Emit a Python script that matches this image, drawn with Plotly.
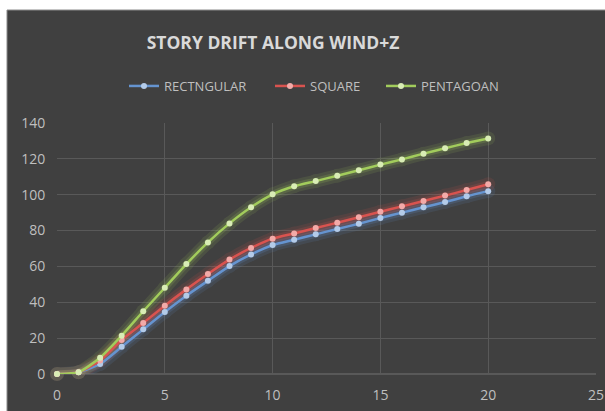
import plotly.graph_objects as go

x_vals = list(range(0, 21))
rect = [0, 1, 5.6, 15.2, 24.9, 34.6, 43.7, 52.0, 60.2, 66.7, 71.9, 74.9, 77.9, 80.9, 83.8, 87.0, 90.0, 93.0, 95.9, 99.1, 102.0]
square = [0, 1, 7.5, 19.0, 28.4, 38.1, 47.2, 55.8, 63.8, 70.3, 75.5, 78.4, 81.4, 84.4, 87.4, 90.5, 93.5, 96.5, 99.5, 102.6, 105.8]
penta = [0, 1, 9.1, 21.4, 35.0, 48.1, 61.3, 73.4, 84.0, 93.0, 100.2, 104.7, 107.6, 110.6, 113.6, 116.8, 119.7, 122.9, 125.9, 128.8, 131.4]

series = [
    ("RECTNGULAR", rect, "#6594d0", "#b3cbe9", 101),
    ("SQUARE", square, "#d9534f", "#f3aaa8", 66),
    ("PENTAGOAN", penta, "#a2cc5c", "#d9edb5", 82),
]

FONT = "Open Sans, sans-serif"
SM = 0.6

W, H = 605, 411
ML, MR, MT, MB = 57, 9, 123, 37
PW, PH = W - ML - MR, H - MT - MB

fig = go.Figure()
for name, ys, col, mcol, lw in series:
    fig.add_trace(go.Scatter(x=x_vals, y=ys, mode="lines+markers",
                             line=dict(color=col, width=13, shape="spline", smoothing=SM),
                             marker=dict(size=14, color=col, line=dict(width=0)),
                             opacity=0.12, showlegend=False, hoverinfo="skip", cliponaxis=False))
    fig.add_trace(go.Scatter(x=x_vals, y=ys, mode="lines",
                             line=dict(color=col, width=7, shape="spline", smoothing=SM),
                             opacity=0.18, showlegend=False, hoverinfo="skip", cliponaxis=False))
for name, ys, col, mcol, lw in series:
    fig.add_trace(go.Scatter(x=x_vals, y=ys, name=name, mode="lines+markers",
                             line=dict(color=col, width=2.5, shape="spline", smoothing=SM),
                             marker=dict(size=6, color=mcol, line=dict(width=0)),
                             legendwidth=lw, cliponaxis=False))

fig.update_layout(
    width=W, height=H,
    margin=dict(l=ML, r=MR, t=MT, b=MB),
    paper_bgcolor="white",
    plot_bgcolor="rgba(0,0,0,0)",
    title=dict(text="<b>STORY DRIFT ALONG WIND+Z</b>", x=273 / W, xanchor="center", y=1 - 43 / H, yanchor="middle",
               font=dict(family=FONT, size=17.5, color="#d9d9d9")),
    legend=dict(orientation="h", x=(131 - ML - 7) / PW, xanchor="left", y=1 + (MT - 86) / PH, yanchor="middle",
                font=dict(family=FONT, size=13, color="#bfbfbf"), bgcolor="rgba(0,0,0,0)"),
    xaxis=dict(range=[0, 25], dtick=5, showgrid=True, gridcolor="#595959", gridwidth=1, zeroline=False,
               showline=False, tickfont=dict(family=FONT, size=14, color="#bfbfbf"),
               ticks="outside", ticklen=8, tickcolor="rgba(0,0,0,0)", automargin=False),
    yaxis=dict(range=[0, 140], dtick=20, showgrid=True, gridcolor="#595959", gridwidth=1, zeroline=True,
               zerolinecolor="#595959", showline=False, tickfont=dict(family=FONT, size=14, color="#bfbfbf"),
               ticks="outside", ticklen=8, tickcolor="rgba(0,0,0,0)", automargin=False),
    shapes=[dict(type="rect", xref="paper", yref="paper",
                 x0=(7 - ML) / PW, x1=(W + 1 - ML) / PW, y0=(PH + MT - H - 1) / PH, y1=(PH + MT - 10) / PH,
                 fillcolor="#404040", line=dict(color="#8a8a8a", width=1), layer="below")],
)
fig.write_html("out.html", config={"displayModeBar": False},
               post_script="document.body.style.margin='0';document.body.style.overflow='hidden';")
